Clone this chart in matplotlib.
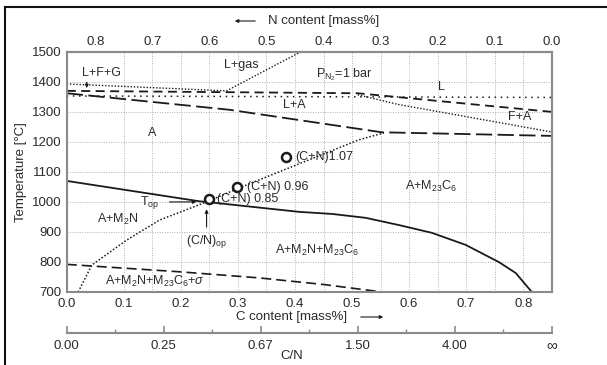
import matplotlib
matplotlib.use('Agg')
import matplotlib.pyplot as plt
from matplotlib.lines import Line2D

plt.rcParams['font.family'] = ['Liberation Sans', 'DejaVu Sans']
plt.rcParams['font.size'] = 9
plt.rcParams['mathtext.fontset'] = 'custom'
plt.rcParams['mathtext.rm'] = 'Liberation Sans'
plt.rcParams['mathtext.it'] = 'Liberation Sans:italic'

CN_TOTAL = 0.85  # C + N [mass%]

# phase boundaries (C content [mass%], temperature [degC])
solid_c = [0.0, 0.233, 0.245, 0.407, 0.465, 0.524, 0.582, 0.64, 0.699, 0.757, 0.787, 0.815]
solid_t = [1070, 1002, 1000, 967, 960, 947, 923, 897, 857, 800, 763, 700]

sigma_c = [0.0, 0.2, 0.337, 0.45, 0.553]
sigma_t = [792, 767, 747, 725, 700]

m2n_c = [0.02, 0.044, 0.105, 0.163, 0.245, 0.30, 0.512, 0.556]
m2n_t = [700, 790, 873, 940, 1000, 1045, 1207, 1230]

austen_c = [0.0, 0.285, 0.552, 0.85]
austen_t = [1362, 1307, 1232, 1220]

liq_c = [0.0, 0.51, 0.85]
liq_t = [1370, 1362, 1300]

fa_c = [0.51, 0.58, 0.85]
fa_t = [1357, 1325, 1233]

lline_c = [0.0, 0.85]
lline_t = [1353, 1348]

gas_c = [0.0, 0.28, 0.41]
gas_t = [1393, 1370, 1500]

# (C+N) points
pt_c = [0.25, 0.299, 0.385]
pt_t = [1010, 1050, 1150]
pt_lab = ['(C+N) 0.85', '(C+N) 0.96', '(C+N)1.07']

n_ticks = [0.8, 0.7, 0.6, 0.5, 0.4, 0.3, 0.2, 0.1, 0.0]
c_ticks = [0.0, 0.1, 0.2, 0.3, 0.4, 0.5, 0.6, 0.7, 0.8]
cn_pos = [0.0, 0.17, 0.34, 0.51, 0.68, 0.85]
cn_labels = ['0.00', '0.25', '0.67', '1.50', '4.00', r'$\infty$']
cn_minor = [0.085, 0.255, 0.425, 0.595, 0.765]

ink = '#1a1a1a'
txt = '#2a2a2a'
spine = '#8a8a8a'

fig = plt.figure(figsize=(6.07, 3.65), dpi=100)
ax = fig.add_axes([0.110, 0.200, 0.799, 0.658])
ax.set_xlim(0, CN_TOTAL)
ax.set_ylim(700, 1500)

# grid at C and N ticks
for c in c_ticks[1:]:
    ax.axvline(c, color='#b0b0b0', ls=(0, (1, 1.5)), lw=0.7, zorder=0)
for n in n_ticks[1:-1]:
    ax.axvline(CN_TOTAL - n, color='#b0b0b0', ls=(0, (1, 1.5)), lw=0.7, zorder=0)
for t in range(800, 1500, 100):
    ax.axhline(t, color='#b0b0b0', ls=(0, (1, 1.5)), lw=0.7, zorder=0)

dot = (0, (1, 1.3))
ax.plot(solid_c, solid_t, color=ink, lw=1.3)
ax.plot(sigma_c, sigma_t, color=ink, lw=1.2, ls=(0, (6, 3)))
ax.plot(m2n_c, m2n_t, color=ink, lw=1.1, ls=dot)
ax.plot(austen_c, austen_t, color=ink, lw=1.3, ls=(0, (9, 3)))
ax.plot(liq_c, liq_t, color=ink, lw=1.3, ls=(0, (5, 3)))
ax.plot(fa_c, fa_t, color=ink, lw=1.0, ls=dot)
ax.plot(lline_c, lline_t, color=ink, lw=1.1, ls=(0, (1, 3)))
ax.plot(gas_c, gas_t, color=ink, lw=1.0, ls=dot)

ax.scatter(pt_c, pt_t, s=42, facecolor='white', edgecolor=ink, linewidth=1.8, zorder=5)
offs = [0.014, 0.016, 0.016]
for c, t, lab, o in zip(pt_c, pt_t, pt_lab, offs):
    ax.text(c + o, t, lab, ha='left', va='center', color=txt, fontsize=9)

# region labels
lab_kw = dict(ha='center', va='center', color=txt, fontsize=9)
ax.text(0.061, 1430, 'L+F+G', **lab_kw)
ax.text(0.306, 1457, 'L+gas', **lab_kw)
ax.text(0.486, 1423, r'P$_{\mathregular{N_2}}$=1 bar', **lab_kw)
ax.text(0.657, 1382, 'L', **lab_kw)
ax.text(0.794, 1283, 'F+A', **lab_kw)
ax.text(0.399, 1323, 'L+A', **lab_kw)
ax.text(0.149, 1230, 'A', **lab_kw)
ax.text(0.089, 940, r'A+M$_\mathregular{2}$N', **lab_kw)
ax.text(0.439, 840, r'A+M$_\mathregular{2}$N+M$_\mathregular{23}$C$_\mathregular{6}$', **lab_kw)
ax.text(0.638, 1053, r'A+M$_\mathregular{23}$C$_\mathregular{6}$', **lab_kw)
ax.text(0.154, 735, r'A+M$_\mathregular{2}$N+M$_\mathregular{23}$C$_\mathregular{6}$+$\sigma$', **lab_kw)
ax.text(0.145, 997, r'T$_\mathregular{op}$', **lab_kw)
ax.text(0.245, 867, r'(C/N)$_\mathregular{op}$', **lab_kw)

arr = dict(arrowstyle='-|>', color=ink, lw=0.8, mutation_scale=5)
ax.annotate('', xy=(0.035, 1370), xytext=(0.035, 1408), arrowprops=arr)
ax.annotate('', xy=(0.232, 1000), xytext=(0.175, 1000), arrowprops=arr)
ax.annotate('', xy=(0.245, 985), xytext=(0.245, 907), arrowprops=arr)

ax.set_xticks(c_ticks)
ax.set_xticklabels([f'{c:.1f}' for c in c_ticks])
ax.set_yticks(range(700, 1501, 100))
ax.tick_params(length=0, pad=4, colors=txt, labelsize=9.5)
for s in ax.spines.values():
    s.set_color(spine)
    s.set_linewidth(1.5)
ax.set_ylabel('Temperature [°C]', color=txt, fontsize=9.5, labelpad=3)

# top N axis
top = ax.secondary_xaxis('top', functions=(lambda c: CN_TOTAL - c, lambda n: CN_TOTAL - n))
top.set_xticks(n_ticks)
top.set_xticklabels([f'{n:.1f}' for n in n_ticks])
top.tick_params(length=0, pad=3, colors=txt, labelsize=9.5)
top.spines['top'].set_color(spine)
top.spines['top'].set_linewidth(1.5)

# axis titles with arrows
fig.text(324 / 607, 1 - 21 / 365, 'N content [mass%]', ha='center', va='center', color=txt, fontsize=9.5)
fig.add_artist(matplotlib.patches.FancyArrowPatch((258 / 607, 1 - 21 / 365), (232 / 607, 1 - 21 / 365),
                                                  transform=fig.transFigure, arrowstyle='-|>',
                                                  mutation_scale=5, color=ink, lw=0.8))
fig.text(292 / 607, 1 - 317 / 365, 'C content [mass%]', ha='center', va='center', color=txt, fontsize=9.5)
fig.add_artist(matplotlib.patches.FancyArrowPatch((358 / 607, 1 - 317 / 365), (386 / 607, 1 - 317 / 365),
                                                  transform=fig.transFigure, arrowstyle='-|>',
                                                  mutation_scale=5, color=ink, lw=0.8))

# C/N axis
cn = fig.add_axes([0.110, 1 - 333 / 365, 0.799, 0.02])
cn.set_xlim(0, CN_TOTAL)
cn.set_ylim(0, 1)
cn.patch.set_visible(False)
for k in ['top', 'left', 'right']:
    cn.spines[k].set_visible(False)
cn.spines['bottom'].set_color(spine)
cn.spines['bottom'].set_linewidth(1.5)
cn.set_yticks([])
cn.set_xticks(cn_pos)
cn.set_xticklabels(cn_labels)
cn.set_xticks(cn_minor, minor=True)
cn.tick_params(axis='x', which='major', direction='in', length=5, width=1.2, color=spine,
               colors=txt, labelsize=9.5, pad=5)
cn.tick_params(axis='x', which='minor', direction='in', length=3, width=1.0, color=spine)
inf_lab = cn.get_xticklabels()[-1]
inf_lab.set_fontsize(11)
inf_lab.set_y(0.25)
fig.text(292 / 607, 1 - 356 / 365, 'C/N', ha='center', va='center', color=txt, fontsize=9.5)

# frame around figure (left and top only visible)
fig.add_artist(Line2D([5 / 607, 5 / 607], [0, 1 - 7 / 365], transform=fig.transFigure, color='#111', lw=1.5))
fig.add_artist(Line2D([5 / 607, 1], [1 - 7 / 365, 1 - 7 / 365], transform=fig.transFigure, color='#111', lw=1.5))

fig.savefig('out.png', dpi=100)
